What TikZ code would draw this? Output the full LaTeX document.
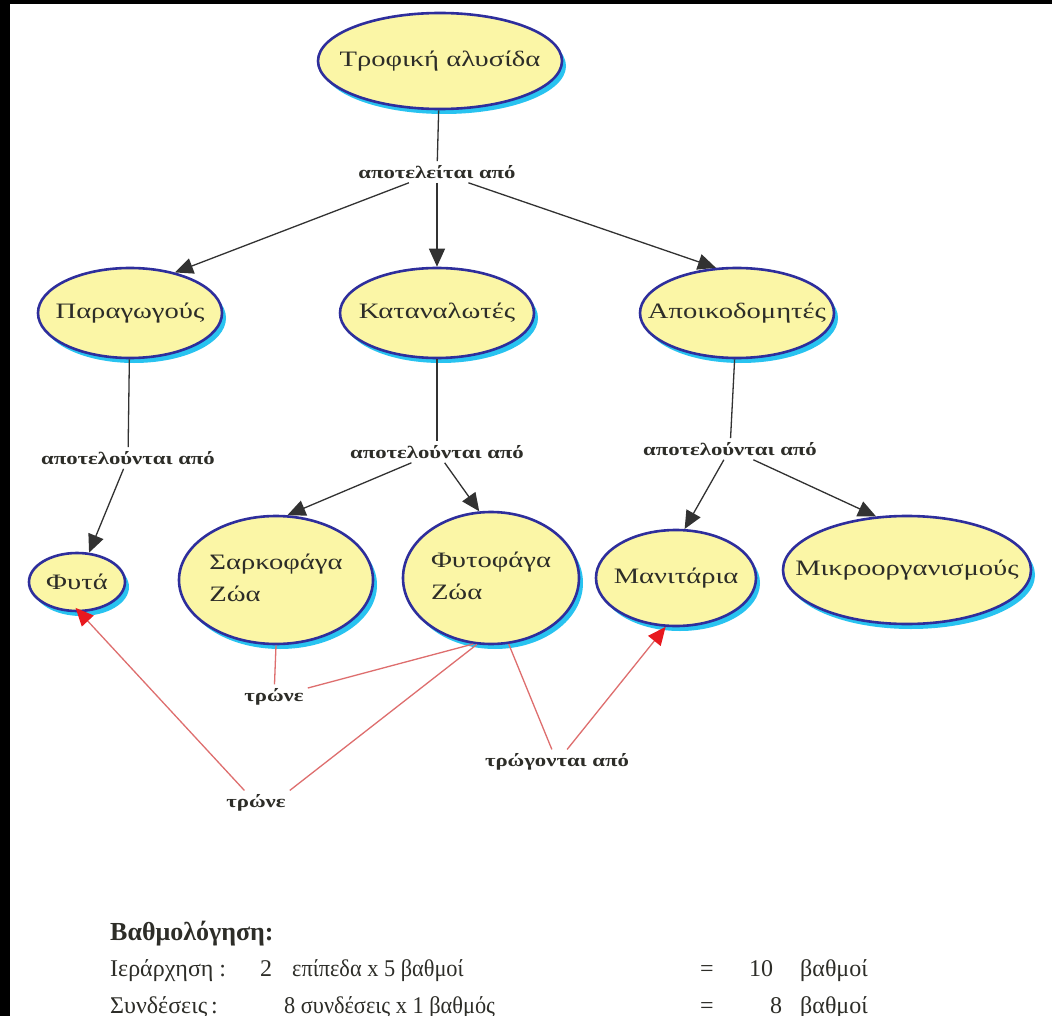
\documentclass[tikz,border=0pt]{standalone}
\usepackage{fontspec}
\setmainfont{Liberation Serif}
\newfontfamily\widefont[FakeStretch=1.3]{Liberation Serif}
\newfontfamily\narrowfont[FakeStretch=0.93]{Liberation Serif}
\usetikzlibrary{shapes.geometric,arrows.meta,shadows}
\definecolor{ellfill}{RGB}{251,246,166}
\definecolor{ellborder}{RGB}{46,46,156}
\definecolor{shadowcyan}{RGB}{40,195,240}
\definecolor{txt}{RGB}{45,45,40}
\definecolor{linegray}{RGB}{50,50,50}
\definecolor{redln}{RGB}{222,110,110}
\definecolor{redtip}{RGB}{232,25,30}
\newcommand{\zw}[1]{\makebox[0pt]{#1}}
\newcommand{\twoline}[2]{\makebox[0pt]{\begin{tabular}{@{}l@{}}#1\\[6pt]#2\end{tabular}}}
\tikzset{
  concept/.style={ellipse, draw=ellborder, line width=2.6pt, fill=ellfill,
    drop shadow={shadow xshift=4pt, shadow yshift=-5pt, fill=shadowcyan, opacity=1},
    inner sep=0pt, font=\widefont\fontsize{22}{26}\selectfont, text=txt},
  linklabel/.style={font=\widefont\fontsize{17.5}{20}\selectfont\bfseries, text=txt, inner sep=4pt},
  blk/.style={draw=linegray, line width=1.3pt},
  blkarrow/.style={blk, -{Triangle[length=18pt,width=16pt]}},
  redline/.style={draw=redln, line width=1.3pt},
  redarrow/.style={redline, -{Triangle[length=18pt,width=16pt,fill=redtip,color=redtip]}},
  scoretext/.style={anchor=base west, inner sep=0pt, font=\fontsize{24}{28}\selectfont, text=txt},
  scorenarrow/.style={scoretext, font=\narrowfont\fontsize{24}{28}\selectfont}
}
\begin{document}
\begin{tikzpicture}[x=1pt,y=-1pt]
\useasboundingbox (0,0) rectangle (1052,1016);
\clip (0,0) rectangle (1052,1016);
\fill[white] (0,0) rectangle (1052,1016);
\fill[black] (0,0) rectangle (10,1016);
\fill[black] (0,0) rectangle (1052,4);

% concepts
\node[concept, minimum width=244pt, minimum height=96pt] (top) at (440,61) {\zw{Τροφική αλυσίδα}};
\node[concept, minimum width=184pt, minimum height=90pt] (par) at (130,313) {\zw{Παραγωγούς}};
\node[concept, minimum width=194pt, minimum height=90pt] (kat) at (437,313) {\zw{Καταναλωτές}};
\node[concept, minimum width=194pt, minimum height=90pt] (apo) at (737,313) {\zw{Αποικοδομητές}};
\node[concept, minimum width=96pt, minimum height=58pt] (fyt) at (77,582) {\zw{Φυτά}};
\node[concept, minimum width=194pt, minimum height=128pt] (sar) at (276,580) {\twoline{Σαρκοφάγα}{Ζώα}};
\node[concept, minimum width=176pt, minimum height=132pt] (fyz) at (491,578) {\twoline{Φυτοφάγα}{Ζώα}};
\node[concept, minimum width=160pt, minimum height=96pt] (man) at (676,578) {\zw{Μανιτάρια}};
\node[concept, minimum width=248pt, minimum height=108pt] (mik) at (907,570) {\zw{Μικροοργανισμούς}};

% link labels
\node[linklabel] (L0) at (437,172) {αποτελείται από};
\node[linklabel] (L1) at (128,458) {αποτελούνται από};
\node[linklabel] (L2) at (437,452) {αποτελούνται από};
\node[linklabel] (L3) at (730,449) {αποτελούνται από};
\node[linklabel] (T1) at (274,697) {τρώνε};
\node[linklabel] (T2) at (256,803) {τρώνε};
\node[linklabel] (T3) at (557,762) {τρώγονται από};

% black connectors
\draw[blk] (top) -- (L0);
\draw[blkarrow] (L0) -- (par.42);
\draw[blkarrow] (L0) -- (kat);
\draw[blkarrow] (L0) -- (apo.115);
\draw[blk] (par) -- (L1);
\draw[blk] (kat) -- (L2);
\draw[blk] (apo) -- (L3);
\draw[blkarrow] (L1) -- (fyt);
\draw[blkarrow] (L2) -- (sar.80);
\draw[blkarrow] (L2) -- (fyz.100);
\draw[blkarrow] (L3) -- (man.80);
\draw[blkarrow] (L3) -- (mik.120);

% red connectors
\draw[redline] (sar.south) -- (T1);
\draw[redline] (fyz.255) -- (T1);
\draw[redline] (fyz.258) -- (T2.north east);
\draw[redarrow, shorten >=-6pt] (T2) -- (fyt.-85);
\draw[redline] (fyz.285) -- (T3);
\draw[redarrow] (T3) -- (man.258);

% scoring text
\node[scoretext, font=\fontsize{26}{30}\selectfont\bfseries] (s0) at (110,940) {Βαθμολόγηση:};
\node[scoretext] (s1a) at (110,976) {Ιεράρχηση :};
\node[scoretext] (s1b) at (260,976) {2};
\node[scorenarrow] (s1c) at (292,976) {επίπεδα x 5 βαθμοί};
\node[scoretext] (s1d) at (700,976) {=};
\node[scoretext] (s1e) at (749,976) {10};
\node[scoretext] (s1f) at (800,976) {βαθμοί};
\node[scoretext] (s2a) at (110,1013) {Συνδέσεις\,:};
\node[scorenarrow] (s2b) at (284,1013) {8 συνδέσεις x 1 βαθμός};
\node[scoretext] (s2c) at (700,1013) {=};
\node[scoretext] (s2d) at (770,1013) {8};
\node[scoretext] (s2e) at (800,1013) {βαθμοί};
\end{tikzpicture}
\end{document}
